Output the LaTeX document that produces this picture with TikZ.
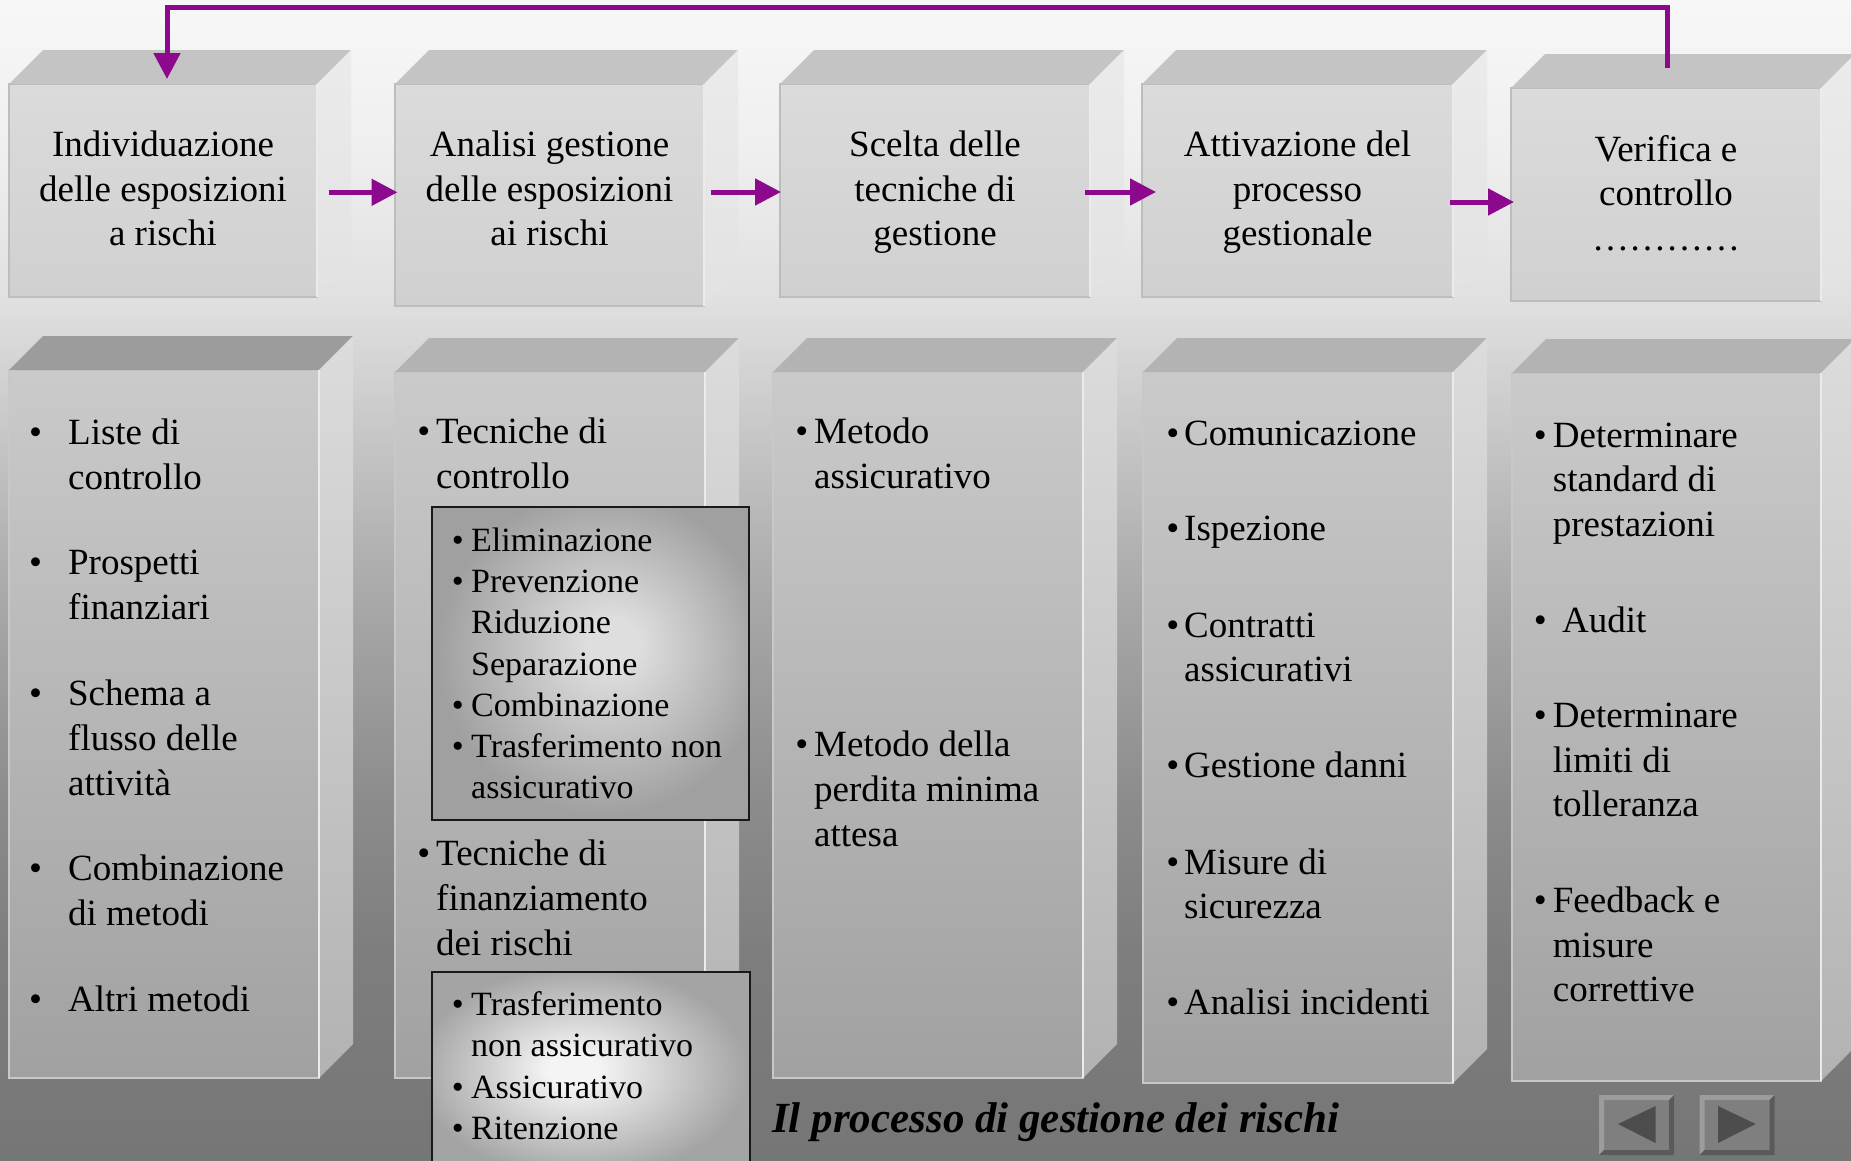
\documentclass[tikz,border=0pt]{standalone}
\usepackage{fontspec}
\setmainfont{Liberation Serif}
\usetikzlibrary{arrows.meta,calc}
\definecolor{purp}{RGB}{140,8,140}
\definecolor{bg0}{HTML}{767676}
\definecolor{bg1}{HTML}{7E7E7E}
\definecolor{bg2}{HTML}{8C8C8C}
\definecolor{bg3}{HTML}{A8A8A8}
\definecolor{bg4}{HTML}{CDCDCD}
\definecolor{bg5}{HTML}{E0E0E0}
\definecolor{bg6}{HTML}{EFEFEF}
\definecolor{bg7}{HTML}{F7F7F7}
% the path's bounding box is mapped onto the central 25bp..75bp of the shading
\pgfdeclareverticalshading{bgshade}{100bp}{color(0bp)=(bg0); color(25bp)=(bg0); color(34.05bp)=(bg1); color(40.52bp)=(bg2); color(49.14bp)=(bg3); color(57.76bp)=(bg4); color(62.07bp)=(bg5); color(68.53bp)=(bg6); color(75bp)=(bg7); color(100bp)=(bg7)}
\definecolor{glin}{HTML}{DEDEDE}
\definecolor{glout}{HTML}{A0A0A0}
\definecolor{glinB}{HTML}{F4F4F4}
\definecolor{gloutB}{HTML}{A4A4A4}
\pgfdeclareradialshading{glowA}{\pgfpoint{4bp}{3.5bp}}{color(0bp)=(glin); color(4bp)=(glin); color(26bp)=(glout); color(50bp)=(glout)}
\pgfdeclareradialshading{glowB}{\pgfpoint{-3bp}{1bp}}{color(0bp)=(glinB); color(4bp)=(glinB); color(26bp)=(gloutB); color(50bp)=(gloutB)}
\definecolor{fA1}{HTML}{DBDBDB}
\definecolor{fA2}{HTML}{D0D0D0}
\definecolor{tA}{HTML}{C4C4C4}
\definecolor{sA1}{HTML}{EBEBEB}
\definecolor{sA2}{HTML}{E2E2E2}
\definecolor{eA}{HTML}{BDBDBD}
\definecolor{fB1}{HTML}{CACACA}
\definecolor{fB2}{HTML}{A1A1A1}
\definecolor{tB}{HTML}{B3B3B3}
\definecolor{tC}{HTML}{9C9C9C}
\definecolor{sB1}{HTML}{DCDCDC}
\definecolor{sB2}{HTML}{B2B2B2}
\definecolor{eB}{HTML}{C8C8C8}
\definecolor{navface}{HTML}{7F7F7F}
\definecolor{navlight}{HTML}{9C9C9C}
\definecolor{navdark}{HTML}{5A5A5A}
\definecolor{navtri}{HTML}{4D4D4D}
\newcommand\cube[6]{%
  \node[front#6, minimum width={#4-#2}, minimum height={#5-#3}] (#1) at ({(#2+#4)/2},{(#3+#5)/2}) {};
  \path[top#6] (#1.north west) -- ++(34,-34) -- ($(#1.north east)+(34,-34)$) -- (#1.north east) -- cycle;
  \path[side#6] (#1.north east) -- ++(34,-34) -- ($(#1.south east)+(34,-34)$) -- (#1.south east) -- cycle;
  \draw[edgeline] (#1.north east) -- (#1.south east);
}
\newcommand\bul[1]{\leavevmode\llap{•\hspace{#1}}}
\begin{document}
\begin{tikzpicture}[x=1pt,y=-1pt,
  frontA/.style={shade, top color=fA1, bottom color=fA2, draw=eA, line width=1.5pt, inner sep=0pt, outer sep=0pt},
  topA/.style={fill=tA},
  sideA/.style={top color=sA1, bottom color=sA2},
  frontB/.style={shade, top color=fB1, bottom color=fB2, draw=eB, line width=1.5pt, inner sep=0pt, outer sep=0pt},
  topB/.style={fill=tB},
  sideB/.style={top color=sB1, bottom color=sB2},
  frontC/.style={frontB},
  topC/.style={fill=tC},
  sideC/.style={sideB},
  edgeline/.style={draw=white!92!black, line width=1.5pt},
  lbl/.style={inner sep=0pt, anchor=base, font=\fontsize{37}{44.4}\selectfont},
  itm/.style={inner sep=0pt, anchor=base west, font=\fontsize{37}{45}\selectfont},
  itm4/.style={inner sep=0pt, anchor=base west, font=\fontsize{37}{44.6}\selectfont},
  sitm/.style={inner sep=0pt, anchor=base west, font=\fontsize{34}{41.2}\selectfont},
  subbox/.style={shade, draw=black!90, line width=1.8pt, inner sep=0pt, outer sep=0pt},
  arr/.style={draw=purp, line width=5pt, -{Triangle[length=26pt,width=26pt]}},
  navbtn/.style={fill=navface, minimum width=75pt, minimum height=60pt, inner sep=0pt, outer sep=0pt},
  ttl/.style={inner sep=0pt, anchor=base west, font=\fontsize{43}{50}\selectfont\bfseries\itshape}
]
\useasboundingbox (0,0) rectangle (1851,1160);
\clip (0,0) rectangle (1851,1160);
\shade[shading=bgshade] (0,0) rectangle (1851,1160);

% bottom row cubes
\cube{c1}{9}{370}{319}{1078}{C}
\cube{c2}{395}{372}{705}{1078}{B}
\cube{c3}{773}{372}{1083}{1078}{B}
\cube{c4}{1143}{372}{1453}{1083}{B}
\cube{c5}{1512}{373}{1821}{1081}{B}

% sub boxes in column 2
\node[subbox, shading=glowA, minimum width=317pt, minimum height=313pt] (boxA) at (590.5,663.5) {};
\node[subbox, shading=glowB, minimum width=318pt, minimum height=203pt] (boxB) at (591,1073.5) {};

% top row cubes
\cube{b1}{9}{84}{317}{297}{A}
\cube{b2}{395}{84}{704}{306}{A}
\cube{b3}{780}{84}{1090}{297}{A}
\cube{b4}{1142}{84}{1453}{297}{A}
\cube{b5}{1511}{88}{1821}{301}{A}

% top row texts
\node[lbl] (t1) at (163,156.7) {\parbox[t]{320pt}{\centering Individuazione\\delle esposizioni\\a rischi}};
\node[lbl] (t2) at (549.5,156.7) {\parbox[t]{320pt}{\centering Analisi gestione\\delle esposizioni\\ai rischi}};
\node[lbl] (t3) at (935,156.7) {\parbox[t]{320pt}{\centering Scelta delle\\tecniche di\\gestione}};
\node[lbl] (t4) at (1297.5,156.7) {\parbox[t]{320pt}{\centering Attivazione del\\processo\\gestionale}};
\node[lbl] (t5) at (1666,161.5) {\parbox[t]{320pt}{\centering Verifica e\\controllo\\…………}};

% column 1
\node[itm] (l1a) at (68,444) {\parbox[t]{320pt}{\raggedright\bul{26pt}Liste di\\controllo}};
\node[itm] (l1b) at (68,574.5) {\parbox[t]{320pt}{\raggedright\bul{26pt}Prospetti\\finanziari}};
\node[itm] (l1c) at (68,705.5) {\parbox[t]{320pt}{\raggedright\bul{26pt}Schema a\\flusso delle\\attività}};
\node[itm] (l1d) at (68,880) {\parbox[t]{320pt}{\raggedright\bul{26pt}Combinazione\\di metodi}};
\node[itm] (l1e) at (68,1011) {\parbox[t]{320pt}{\raggedright\bul{26pt}Altri metodi}};

% column 2
\node[itm] (l2a) at (436,443.6) {\parbox[t]{320pt}{\raggedright\bul{6pt}Tecniche di\\controllo}};
\node[sitm] (l2s1) at (471,551.4) {\parbox[t]{300pt}{\raggedright\bul{7.5pt}Eliminazione\\\bul{7.5pt}Prevenzione\\Riduzione\\Separazione\\\bul{7.5pt}Combinazione\\\bul{7.5pt}Trasferimento non\\assicurativo}};
\node[itm] (l2b) at (436,865.7) {\parbox[t]{320pt}{\raggedright\bul{6pt}Tecniche di\\finanziamento\\dei rischi}};
\node[sitm] (l2s2) at (471,1015.6) {\parbox[t]{300pt}{\raggedright\bul{7.5pt}Trasferimento\\non assicurativo\\\bul{7.5pt}Assicurativo\\\bul{7.5pt}Ritenzione}};

% column 3
\node[itm] (l3a) at (814,443.6) {\parbox[t]{320pt}{\raggedright\bul{6pt}Metodo\\assicurativo}};
\node[itm] (l3b) at (814,756.8) {\parbox[t]{320pt}{\raggedright\bul{6pt}Metodo della\\perdita minima\\attesa}};

% column 4
\node[itm4] (l4a) at (1184,445) {\parbox[t]{320pt}{\raggedright\bul{5pt}Comunicazione}};
\node[itm4] (l4b) at (1184,540) {\parbox[t]{320pt}{\raggedright\bul{5pt}Ispezione}};
\node[itm4] (l4c) at (1184,637) {\parbox[t]{320pt}{\raggedright\bul{5pt}Contratti\\assicurativi}};
\node[itm4] (l4d) at (1184,777) {\parbox[t]{320pt}{\raggedright\bul{5pt}Gestione danni}};
\node[itm4] (l4e) at (1184,874) {\parbox[t]{320pt}{\raggedright\bul{5pt}Misure di\\sicurezza}};
\node[itm4] (l4f) at (1184,1014) {\parbox[t]{320pt}{\raggedright\bul{5pt}Analisi incidenti}};

% column 5
\node[itm4] (l5a) at (1552.7,447) {\parbox[t]{300pt}{\raggedright\bul{6pt}Determinare\\standard di\\prestazioni}};
\node[itm4] (l5b) at (1562,632) {\parbox[t]{300pt}{\raggedright\bul{15.5pt}Audit}};
\node[itm4] (l5c) at (1552.7,727.5) {\parbox[t]{300pt}{\raggedright\bul{6pt}Determinare\\limiti di\\tolleranza}};
\node[itm4] (l5d) at (1552.7,912.6) {\parbox[t]{300pt}{\raggedright\bul{6pt}Feedback e\\misure\\correttive}};

% arrows between steps
\draw[arr] ($(b1.east)+(11.5,1.8)$) -- ($(b1.east -| b2.west)+(2.5,1.8)$);
\draw[arr] ($(b2.east)+(7,-3)$) -- ($(b2.east -| b3.west)+(1,-3)$);
\draw[arr] ($(b3.east)+(-5,1.5)$) -- ($(b3.east -| b4.west)+(14,1.5)$);
\draw[arr] ($(b4.east)+(-3,11.5)$) -- ($(b4.east -| b5.west)+(3,11.5)$);

% feedback loop
\coordinate (fbA) at (1667,68);
\coordinate (fbB) at (167,79);
\coordinate (fbT) at (0,7.5);
\draw[arr, line join=miter] (fbA) -- (fbA |- fbT) -| (fbB);

% title
\node[ttl] (title) at (772,1132) {Il processo di gestione dei rischi};

% navigation buttons
\node[navbtn] (navL) at (1636.5,1125) {};
\node[navbtn] (navR) at (1737,1125) {};
\foreach \n in {navL,navR}{
  \fill[navlight] (\n.north west) -- (\n.north east) -- ($(\n.north east)+(-5,5)$) -- ($(\n.north west)+(5,5)$) -- cycle;
  \fill[navlight] (\n.north west) -- ($(\n.north west)+(5,5)$) -- ($(\n.south west)+(5,-5)$) -- (\n.south west) -- cycle;
  \fill[navdark] (\n.south west) -- (\n.south east) -- ($(\n.south east)+(-5,-5)$) -- ($(\n.south west)+(5,-5)$) -- cycle;
  \fill[navdark] (\n.north east) -- (\n.south east) -- ($(\n.south east)+(-5,-5)$) -- ($(\n.north east)+(-5,5)$) -- cycle;
}
\fill[navtri] ($(navL.center)+(-18.5,-1)$) -- ($(navL.center)+(19,-19)$) -- ($(navL.center)+(19,18)$) -- cycle;
\fill[navtri] ($(navR.center)+(18.7,-1)$) -- ($(navR.center)+(-19,-19)$) -- ($(navR.center)+(-19,18)$) -- cycle;
\end{tikzpicture}
\end{document}
